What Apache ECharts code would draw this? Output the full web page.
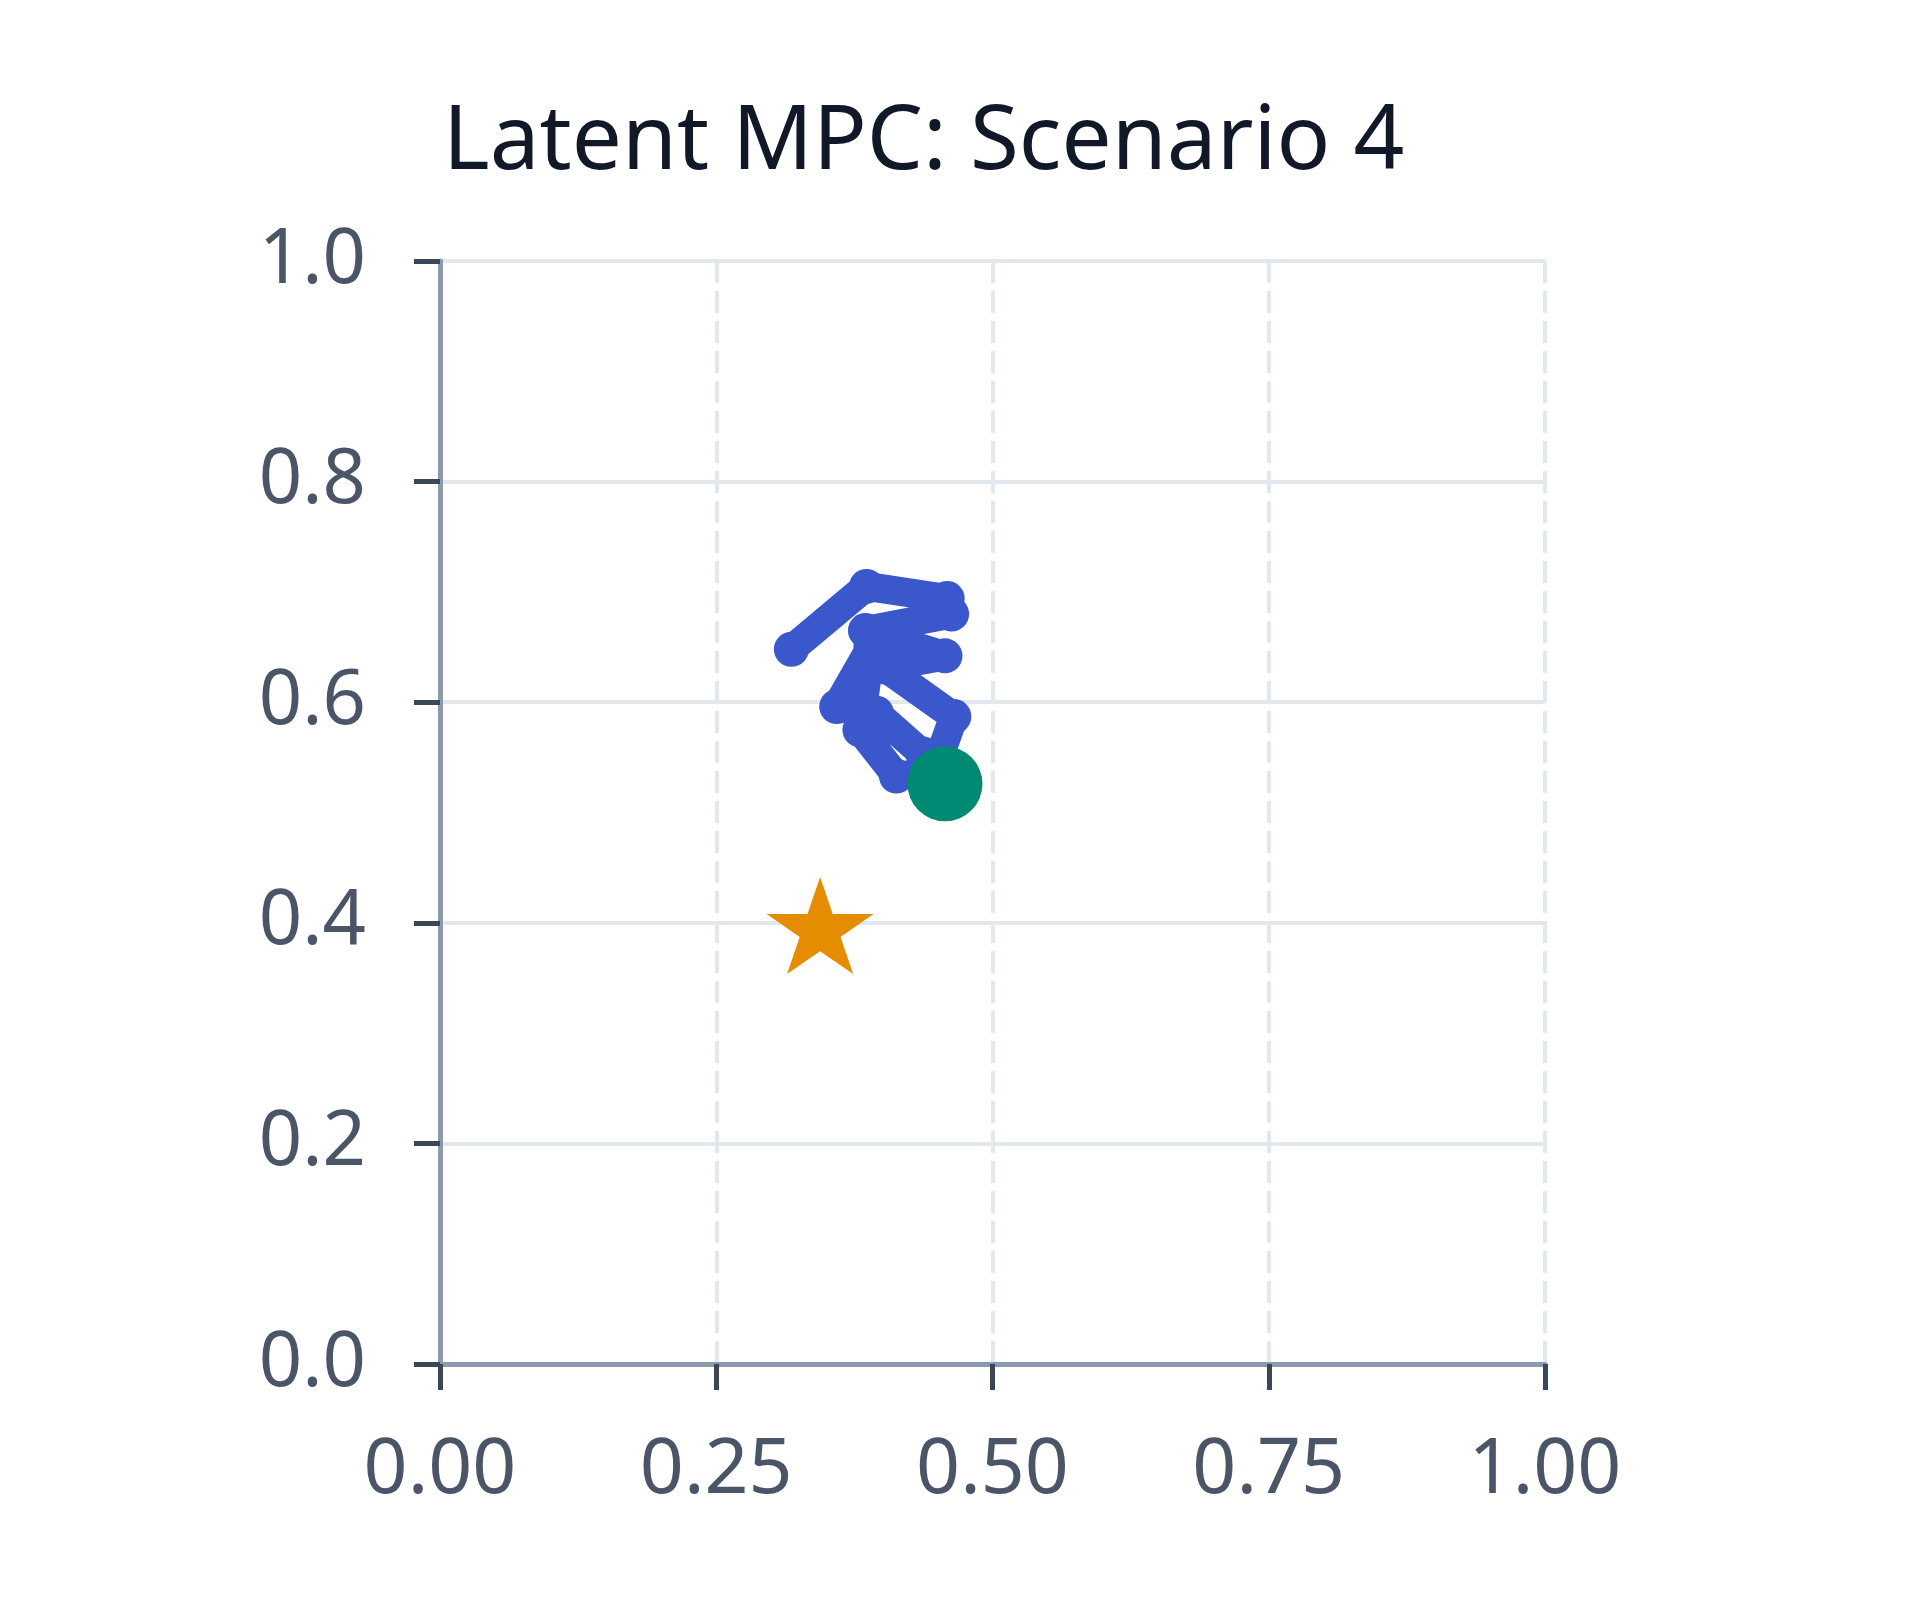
<!DOCTYPE html>
<html>
<head>
<meta charset="utf-8">
<script src="https://cdn.jsdelivr.net/npm/echarts@6/dist/echarts.min.js"></script>
<style>
html,body{margin:0;padding:0;background:#fff;}
#c{width:1920px;height:1600px;}
</style>
</head>
<body>
<div id="c"></div>
<script>
const titleText = 'Latent MPC: Scenario 4';
const xTicks = [0, 0.25, 0.5, 0.75, 1.0];
const yTicks = [0, 0.2, 0.4, 0.6, 0.8, 1.0];
const trajectory = [
  [0.452, 0.537],
  [0.413, 0.533],
  [0.380, 0.575],
  [0.390, 0.650],
  [0.359, 0.596],
  [0.395, 0.590],
  [0.437, 0.553],
  [0.450, 0.545],
  [0.465, 0.587],
  [0.402, 0.632],
  [0.457, 0.642],
  [0.385, 0.665],
  [0.463, 0.680],
  [0.459, 0.694],
  [0.386, 0.705],
  [0.318, 0.648]
];
const startPoint = [[0.457, 0.526]];
const goalPoint = [[0.344, 0.393]];

const chart = echarts.init(document.getElementById('c'));
const labelColor = '#4a5568';
const font = 'Noto Sans';
chart.setOption({
  animation: false,
  backgroundColor: '#ffffff',
  title: {
    text: titleText,
    left: 438,
    top: 94,
    textStyle: { fontFamily: font, fontSize: 89, fontWeight: 'normal', color: '#111827' }
  },
  grid: { left: 440, top: 261, width: 1105, height: 1103, containLabel: false },
  xAxis: {
    type: 'value', min: 0, max: 1, interval: 0.25,
    axisLine: { show: true, onZero: false, lineStyle: { color: '#8a9ab0', width: 5 } },
    axisTick: { show: true, length: 26, inside: false, lineStyle: { color: '#3b4656', width: 5 } },
    axisLabel: { margin: 69, fontFamily: font, fontSize: 77, color: labelColor,
      formatter: v => v.toFixed(2) },
    splitLine: { show: true, lineStyle: { color: '#e3e7ee', width: 4, type: [22, 8] } }
  },
  yAxis: {
    type: 'value', min: 0, max: 1, interval: 0.2,
    axisLine: { show: true, onZero: false, lineStyle: { color: '#8a9ab0', width: 5 } },
    axisTick: { show: true, length: 26, inside: false, lineStyle: { color: '#3b4656', width: 5 } },
    axisLabel: { margin: 74, fontFamily: font, fontSize: 76, color: labelColor,
      formatter: v => v.toFixed(1) },
    splitLine: { show: true, lineStyle: { color: '#e3e7ee', width: 4, type: 'solid' } }
  },
  series: [
    {
      type: 'line',
      data: trajectory,
      symbol: 'circle',
      symbolSize: 35,
      showSymbol: true,
      lineStyle: { color: '#3a58cc', width: 29, cap: 'round', join: 'round' },
      itemStyle: { color: '#3a58cc', borderWidth: 0 },
      z: 2
    },
    {
      type: 'scatter',
      data: startPoint,
      symbol: 'circle',
      symbolSize: 75,
      itemStyle: { color: '#008a74', opacity: 1 },
      z: 3
    },
    {
      type: 'scatter',
      data: goalPoint,
      symbol: 'path://M0,-1 L0.2245,-0.309 L0.9511,-0.309 L0.3633,0.118 L0.5878,0.809 L0,0.382 L-0.5878,0.809 L-0.3633,0.118 L-0.9511,-0.309 L-0.2245,-0.309 Z',
      symbolKeepAspect: true,
      symbolSize: [107, 102],
      symbolOffset: [0, -5],
      itemStyle: { color: '#e68c00', opacity: 1 },
      z: 3
    }
  ]
});
</script>
</body>
</html>
